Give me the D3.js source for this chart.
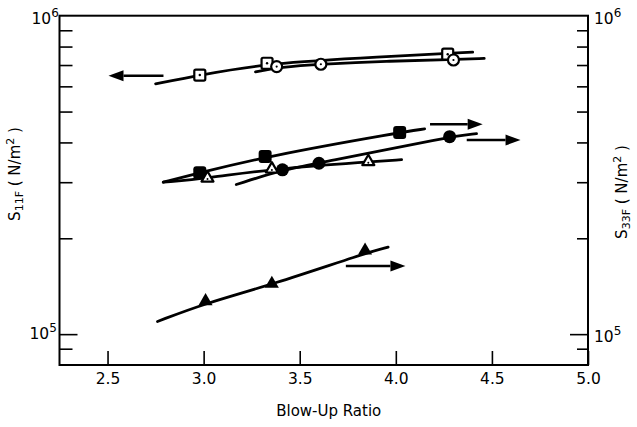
<!DOCTYPE html>
<html><head><meta charset="utf-8">
<script src="https://cdn.jsdelivr.net/npm/d3@7"></script>
<style>body{margin:0;background:#fff}svg{display:block}text{font-family:"DejaVu Sans",sans-serif;fill:#000}</style>
</head><body><svg id="c" width="637" height="427"></svg>
<script>
// ---- data (Blow-Up Ratio, stress N/m^2) ----
const xTicks = [2.5, 3.0, 3.5, 4.0, 4.5, 5.0];
const yMinorTicks = [9e4, 2e5, 3e5, 4e5, 5e5, 6e5, 7e5, 8e5, 9e5];
const yMajorTicks = [1e5, 1e6];

// S11F (left axis) series
const sqOpenX = [2.98, 3.33, 4.27];
const sqOpenY = [6.51e5, 7.09e5, 7.57e5];
const ciOpenX = [3.38, 3.61, 4.30];
const ciOpenY = [6.92e5, 7.04e5, 7.26e5];
// S33F (right axis) series
const sqFillX = [2.98, 3.32, 4.02];
const sqFillY = [3.21e5, 3.61e5, 4.30e5];
const trOpenX = [3.02, 3.355, 3.857];
const trOpenY = [3.09e5, 3.30e5, 3.48e5];
const ciFillX = [3.41, 3.60, 4.28];
const ciFillY = [3.28e5, 3.44e5, 4.17e5];
const trFillX = [3.01, 3.355, 3.84];
const trFillY = [1.27e5, 1.44e5, 1.83e5];

// fitted curves
const cSqOpenX = [2.75, 2.98, 3.33, 3.92, 4.40];
const cSqOpenY = [6.11e5, 6.51e5, 7.09e5, 7.43e5, 7.68e5];
const cCiOpenX = [3.27, 3.40, 3.61, 3.95, 4.30, 4.46];
const cCiOpenY = [6.66e5, 6.90e5, 7.04e5, 7.20e5, 7.29e5, 7.34e5];
const cSqFillX = [2.79, 2.98, 3.32, 4.02, 4.15];
const cSqFillY = [3.0e5, 3.21e5, 3.61e5, 4.30e5, 4.41e5];
const cTrOpenX = [2.79, 3.02, 3.355, 3.857, 4.03];
const cTrOpenY = [3.0e5, 3.09e5, 3.30e5, 3.48e5, 3.53e5];
const cCiFillX = [3.17, 3.41, 3.60, 4.28, 4.42];
const cCiFillY = [2.95e5, 3.28e5, 3.44e5, 4.17e5, 4.26e5];
const cTrFillX = [2.76, 3.008, 3.355, 3.84, 3.96];
const cTrFillY = [1.096e5, 1.25e5, 1.43e5, 1.795e5, 1.875e5];

// arrows: [tail x, tip x, y]
const arrows = [
  [2.791, 2.505, 6.48e5],
  [4.178, 4.452, 4.56e5],
  [4.369, 4.649, 4.07e5],
  [3.74, 4.05, 1.638e5]
];

// ---- drawing ----
const svg = d3.select("#c");
const L = 59.5, R = 588, T = 15.7, B = 365;
const x = d3.scaleLinear().domain([2.25, 5.0]).range([L, R]);
const y = d3.scaleLog().domain([8e4, 1e6]).range([B, T]);

svg.append("rect").attr("x", L).attr("y", T).attr("width", R - L).attr("height", B - T)
  .attr("fill", "none").attr("stroke", "#000").attr("stroke-width", 2);

const gx = svg.append("g").attr("transform", `translate(0,${B})`)
  .call(d3.axisBottom(x).tickValues(xTicks).tickSizeInner(-14).tickSizeOuter(0)
    .tickPadding(8).tickFormat(d3.format(".1f")));
gx.select(".domain").remove();
gx.selectAll("line").attr("stroke-width", 1.6);
gx.selectAll("text").attr("font-size", 15.5).attr("dy", "0.72em");

function yAxis(side) {
  const ax = side === "left" ? d3.axisLeft(y) : d3.axisRight(y);
  const g = svg.append("g").attr("transform", `translate(${side === "left" ? L : R},0)`)
    .call(ax.tickValues(yMinorTicks.concat([1e5])).tickSizeInner(-12).tickSizeOuter(0).tickFormat(""));
  g.select(".domain").remove();
  g.selectAll("line").attr("stroke-width", 1.6)
    .attr("x2", d => (d === 1e5 ? 18 : (side === "left" ? 13 : 11)) * (side === "left" ? 1 : -1));
}
yAxis("left"); yAxis("right");

function pow10(px, py, exp) {
  const t = svg.append("text").attr("x", px).attr("y", py).attr("font-size", 15.5);
  t.append("tspan").text("10");
  t.append("tspan").attr("dy", -7).attr("font-size", 12).text(exp);
}
yMajorTicks.forEach(v => {
  const e = String(Math.round(Math.log10(v)));
  pow10(v === 1e5 ? L - 30 : L - 28, y(v) + (v === 1e5 ? 5 : 8), e);
  pow10(R + 6, y(v) + 8, e);
});

svg.append("text").attr("x", (L + R) / 2 + 5).attr("y", 416).attr("text-anchor", "middle")
  .attr("font-size", 15).text("Blow-Up Ratio");

function yTitle(cx, cy, sub) {
  const t = svg.append("text").attr("transform", `translate(${cx},${cy}) rotate(-90)`)
    .attr("text-anchor", "middle").attr("font-size", 15);
  t.append("tspan").text("S");
  t.append("tspan").attr("dy", 3).attr("font-size", 11).text(sub);
  t.append("tspan").attr("dy", -3).text(" ( N/m");
  t.append("tspan").attr("dy", -6).attr("font-size", 11).text("2");
  t.append("tspan").attr("dy", 6).text(" )");
}
yTitle(19.5, 174, "11F");
yTitle(627, 192, "33F");

const line = d3.line().x(d => x(d[0])).y(d => y(d[1])).curve(d3.curveBasis);
[[cSqOpenX, cSqOpenY], [cCiOpenX, cCiOpenY], [cSqFillX, cSqFillY],
 [cTrOpenX, cTrOpenY], [cCiFillX, cCiFillY], [cTrFillX, cTrFillY]].forEach(([xs, ys]) => {
  svg.append("path").datum(xs.map((v, i) => [v, ys[i]])).attr("d", line)
    .attr("fill", "none").attr("stroke", "#000").attr("stroke-width", 2.8).attr("stroke-linecap", "round");
});

arrows.forEach(([x0, x1, yv]) => {
  const a = x(x0), b = x(x1), yy = y(yv), dir = Math.sign(b - a), hl = 15, hw = 5.5;
  svg.append("line").attr("x1", a).attr("x2", b - dir * hl).attr("y1", yy).attr("y2", yy)
    .attr("stroke", "#000").attr("stroke-width", 2.5);
  svg.append("path").attr("d", `M${b},${yy}L${b - dir * hl},${yy - hw}L${b - dir * hl},${yy + hw}Z`).attr("fill", "#000");
});

function pts(xs, ys) { return xs.map((v, i) => [x(v), y(ys[i])]); }
const tri = s => { const h = s * Math.sqrt(3) / 2; return `M0,${-h * 2 / 3}L${s / 2},${h / 3}L${-s / 2},${h / 3}Z`; };

pts(sqOpenX, sqOpenY).forEach(([px, py]) => {
  svg.append("rect").attr("x", px - 5.5).attr("y", py - 5.5).attr("width", 11).attr("height", 11).attr("rx", 1.5)
    .attr("fill", "#fff").attr("stroke", "#000").attr("stroke-width", 2.2);
  svg.append("circle").attr("cx", px).attr("cy", py).attr("r", 1.2).attr("fill", "#000");
});
pts(ciOpenX, ciOpenY).forEach(([px, py]) => {
  svg.append("circle").attr("cx", px).attr("cy", py).attr("r", 5.5)
    .attr("fill", "#fff").attr("stroke", "#000").attr("stroke-width", 2.2);
  svg.append("circle").attr("cx", px).attr("cy", py).attr("r", 1.1).attr("fill", "#000");
});
pts(sqFillX, sqFillY).forEach(([px, py]) => {
  svg.append("rect").attr("x", px - 6.5).attr("y", py - 6.5).attr("width", 13).attr("height", 13).attr("rx", 3)
    .attr("fill", "#000");
});
pts(ciFillX, ciFillY).forEach(([px, py]) => {
  svg.append("circle").attr("cx", px).attr("cy", py).attr("r", 6.5).attr("fill", "#000");
});
pts(trOpenX, trOpenY).forEach(([px, py]) => {
  svg.append("path").attr("d", tri(12)).attr("transform", `translate(${px},${py})`)
    .attr("fill", "#fff").attr("stroke", "#000").attr("stroke-width", 2.2).attr("stroke-linejoin", "round");
  svg.append("circle").attr("cx", px).attr("cy", py + 1).attr("r", 1).attr("fill", "#000");
});
pts(trFillX, trFillY).forEach(([px, py]) => {
  svg.append("path").attr("d", tri(14)).attr("transform", `translate(${px},${py})`).attr("fill", "#000");
});
</script></body></html>
